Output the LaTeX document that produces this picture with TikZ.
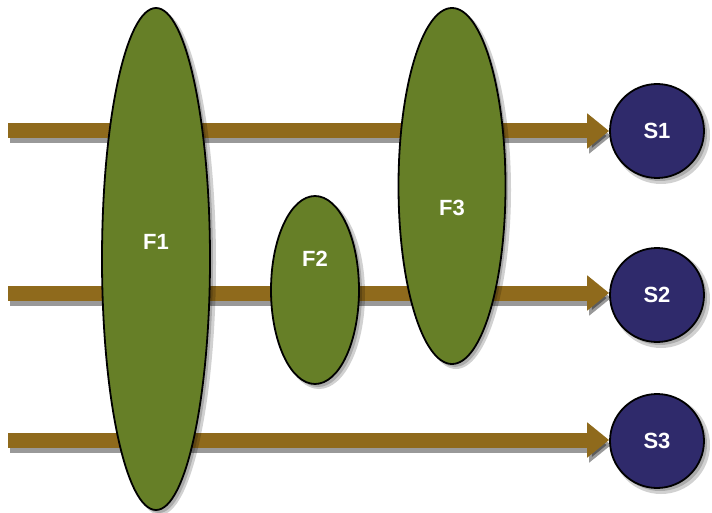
\documentclass[tikz,border=0pt]{standalone}
\usepackage{fontspec}
\setmainfont{Liberation Sans}
\usetikzlibrary{shapes.geometric,arrows.meta}
\definecolor{arrowbrown}{HTML}{8F6A1C}
\definecolor{fgreen}{HTML}{667F27}
\definecolor{snavy}{HTML}{2F2A6B}
\begin{document}
\begin{tikzpicture}[x=1pt,y=-1pt,
  filt/.style={ellipse, draw=black, line width=1.8pt, fill=fgreen, inner sep=0pt,
    text=white, font=\bfseries\fontsize{22}{22}\selectfont},
  sink/.style={circle, draw=black, line width=1.8pt, fill=snavy, inner sep=0pt,
    minimum size=94pt, text=white, font=\bfseries\fontsize{22}{22}\selectfont},
  lbl/.style={text=white, font=\bfseries\fontsize{22}{22}\selectfont},
  softshade/.style={fill=black, opacity=0.18},
  flow/.style={draw=arrowbrown, line width=15pt, -{Triangle[width=34pt,length=22pt]}},
  flowshadow/.style={draw=black, opacity=0.4, line width=15pt, -{Triangle[width=34pt,length=22pt]},
    transform canvas={xshift=2pt,yshift=-5pt}}
]
\useasboundingbox (0,0) rectangle (712,513);
% sink shadows
\foreach \y in {131,295,441}{
  \fill[softshade] (661,\y+4) circle [radius=49];
  \fill[softshade] (660,\y+3) circle [radius=47];
}
% sinks
\node[sink] (S1) at (657,131) {S1};
\node[sink] (S2) at (657,295) {S2};
\node[sink] (S3) at (657,441) {S3};
% flow starts
\coordinate (a1) at (8,131);
\coordinate (a2) at (8,293);
\coordinate (a3) at (8,440);
% arrow shadows
\draw[flowshadow] (a1) -- (S1.west);
\draw[flowshadow] (a2) -- (a2 -| S2.west);
\draw[flowshadow] (a3) -- (a3 -| S3.west);
% arrows
\draw[flow] (a1) -- (S1.west);
\draw[flow] (a2) -- (a2 -| S2.west);
\draw[flow] (a3) -- (a3 -| S3.west);
% filter shadows
\fill[softshade] (160,263) ellipse [x radius=56, y radius=252];
\fill[softshade] (159,262) ellipse [x radius=54, y radius=251];
\fill[softshade] (319,294) ellipse [x radius=46, y radius=95];
\fill[softshade] (318,293) ellipse [x radius=44, y radius=94];
\fill[softshade] (456,190) ellipse [x radius=55, y radius=179];
\fill[softshade] (455,189) ellipse [x radius=53, y radius=178];
% filters
\node[filt, minimum width=108pt, minimum height=502pt] (F1) at (156,259) {};
\node[filt, minimum width=88pt, minimum height=188pt] (F2) at (315,290) {};
\node[filt, minimum width=107pt, minimum height=356pt] (F3) at (452,186) {};
\node[lbl] (F1l) at ([yshift=17pt]F1.center) {F1};
\node[lbl] (F2l) at ([yshift=31pt]F2.center) {F2};
\node[lbl] (F3l) at ([yshift=-22pt]F3.center) {F3};
\end{tikzpicture}
\end{document}
